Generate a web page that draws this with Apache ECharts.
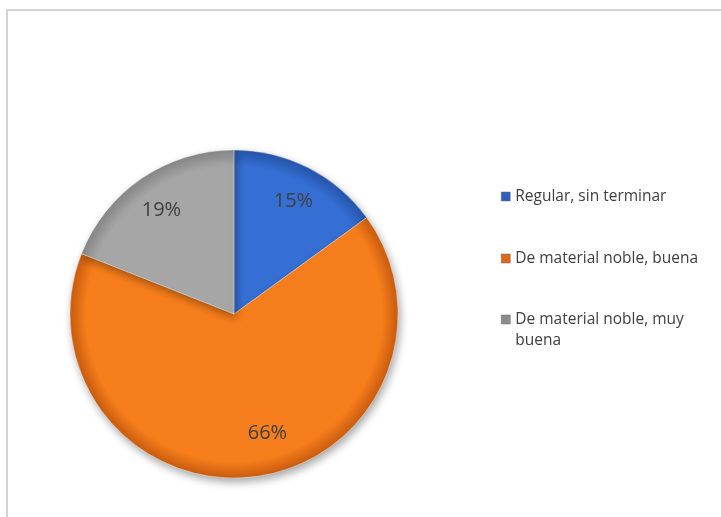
<!DOCTYPE html>
<html>
<head>
<meta charset="utf-8">
<script src="https://cdn.jsdelivr.net/npm/echarts@6/dist/echarts.min.js"></script>
<style>
  html, body { margin: 0; padding: 0; background: #fff; }
  #chart { width: 721px; height: 517px; }
</style>
</head>
<body>
<div id="chart"></div>
<script>
// Estado de la vivienda (porcentajes)
const categories = ['Regular, sin terminar', 'De material noble, buena', 'De material noble, muy buena'];
const values = [15, 66, 19];
// the leading blank line keeps the icon beside the first line of wrapped text
const legendLabels = ['Regular, sin terminar', 'De material noble, buena', '\nDe material noble, muy\nbuena'];

const baseColors = ['#356fd4', '#f77e1c', '#a6a6a6'];
const edgeColors = ['#2655aa', '#c95c0f', '#878787'];
const iconColors = ['#2f5fb8', '#e0661a', '#8c8c8c'];

const CX = 234, CY = 314, R = 164;
const FONT = 'Open Sans, Liberation Sans, Arial, sans-serif';

function sliceFill(i) {
  return new echarts.graphic.RadialGradient(CX, CY, R, [
    { offset: 0, color: baseColors[i] },
    { offset: 0.9, color: baseColors[i] },
    { offset: 1, color: edgeColors[i] }
  ], true);
}

const data = categories.map((name, i) => ({
  name: name,
  value: values[i],
  itemStyle: { color: sliceFill(i) }
}));

const legendTops = [186, 248, 288];
const legends = categories.map((name, i) => ({
  orient: 'vertical',
  left: 501,
  top: legendTops[i],
  padding: 0,
  icon: 'rect',
  itemWidth: 9,
  itemHeight: 9,
  itemGap: 0,
  selectedMode: false,
  formatter: () => legendLabels[i],
  textStyle: {
    fontFamily: FONT,
    fontSize: 15.5,
    color: '#404040',
    lineHeight: 21
  },
  itemStyle: { color: iconColors[i], borderColor: '#6b6b6b', borderWidth: 0.5 },
  data: [name]
}));

// small nudges for the label of each slice (px)
const labelNudge = [[0, 4], [17, -11], [1, 5]];

const chart = echarts.init(document.getElementById('chart'), null, { renderer: 'canvas' });
chart.setOption({
  animation: false,
  backgroundColor: '#ffffff',
  graphic: [{
    type: 'rect',
    shape: { x: 7, y: 10, width: 730, height: 530 },
    style: { fill: 'none', stroke: '#d4d4d4', lineWidth: 2 },
    silent: true,
    z: -10
  }],
  legend: legends,
  series: [{
    type: 'pie',
    center: [CX, CY],
    radius: [0, R],
    startAngle: 90,
    clockwise: true,
    data: data,
    itemStyle: {
      borderColor: 'rgba(255,255,255,0.35)',
      borderWidth: 1,
      shadowBlur: 8,
      shadowOffsetX: 2,
      shadowOffsetY: 4,
      shadowColor: 'rgba(0,0,0,0.35)'
    },
    label: {
      show: true,
      position: 'inside',
      formatter: '{d}%',
      fontFamily: FONT,
      fontSize: 20,
      color: '#404040'
    },
    // push the inside labels outward from half radius to ~0.77 of the radius
    labelLayout: function (p) {
      const lx = p.labelRect.x + p.labelRect.width / 2;
      const ly = p.labelRect.y + p.labelRect.height / 2;
      const k = 0.54;
      const n = labelNudge[p.dataIndex];
      return { dx: (lx - CX) * k + n[0], dy: (ly - CY) * k + n[1] };
    },
    labelLine: { show: false },
    emphasis: { disabled: true }
  }]
});
</script>
</body>
</html>
